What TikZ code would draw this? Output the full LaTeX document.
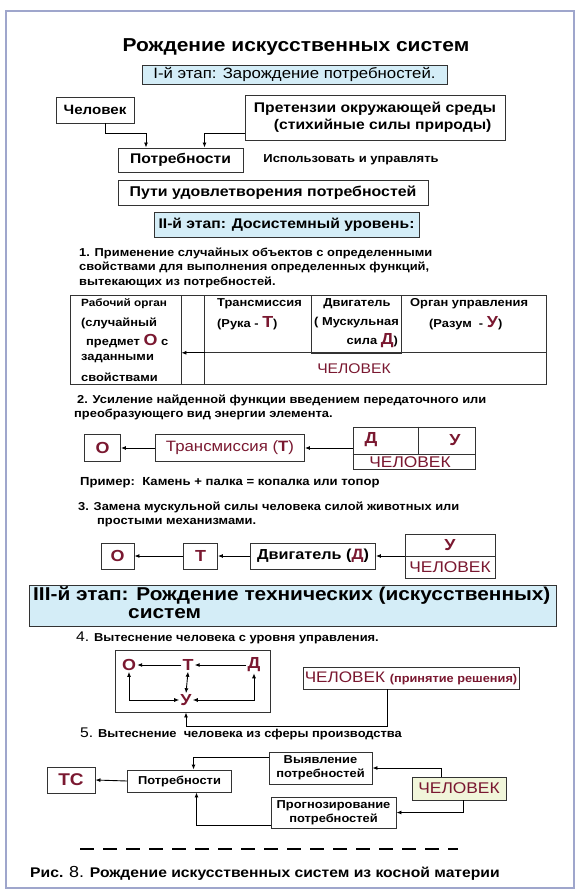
\documentclass[tikz,border=0pt]{standalone}
\usepackage{fontspec}
\setmainfont{Liberation Sans}[FakeStretch=1.12]
\usetikzlibrary{arrows.meta}
\definecolor{dred}{HTML}{7A1830}
\definecolor{lblue}{HTML}{D4EDF7}
\definecolor{framec}{HTML}{9FA6CC}
\definecolor{lgreen}{HTML}{F1F6DA}
\newcommand{\fsz}[2]{\fontsize{#1}{#2}\selectfont}
\newcommand{\rl}[2][16]{{\color{dred}\bfseries\fsz{#1}{#1}#2}}
\begin{document}
\begin{tikzpicture}[x=1pt,y=-1pt,
  box/.style={draw=black!80, line width=0.9pt, inner sep=0pt, font=\bfseries\fsz{13}{15}},
  stagebox/.style={box, fill=lblue},
  lbl/.style={inner sep=0pt, font=\bfseries\fsz{11.5}{14.5}},
  rtxt/.style={inner sep=0pt, text=dred, font=\fsz{14}{16}},
  thin/.style={line width=0.9pt, draw=black!80},
  arr/.style={-{Latex[length=5pt,width=4pt]}, line width=0.9pt},
  darr/.style={{Latex[length=5pt,width=4pt]}-{Latex[length=5pt,width=4pt]}, line width=0.9pt}]
\path[use as bounding box] (0,0) rectangle (580,896);
\fill[white] (0,0) rectangle (580,896);
\draw[framec, line width=1.2pt] (6,11) rectangle (574,888);

% title and stage I
\node[inner sep=0pt, font=\bfseries\fsz{18.7}{22}] (title) at (296,47) {Рождение искусственных систем};
\node[stagebox, minimum width=305, minimum height=19, font=\fsz{15}{17}] (st1) at (294.5,74.5) {I-й этап: Зарождение потребностей.};

\node[box, minimum width=78, minimum height=26, font=\bfseries\fsz{13.5}{15}] (chel) at (95,110) {Человек};
\node[box, minimum width=260, minimum height=45, align=left, font=\bfseries\fsz{14}{17}] (pret) at (375,117.5) {Претензии окружающей среды\\\hspace*{20pt}(стихийные силы природы)};
\node[box, minimum width=125, minimum height=24, font=\bfseries\fsz{14}{16}] (potr) at (180.5,160) {Потребности};
\node[lbl, font=\bfseries\fsz{11.6}{13}] (isp) at (351,160) {Использовать и управлять};
\draw[arr] ([xshift=10.5pt]chel.south) -- ++(0,10) -| ([xshift=-34.5pt]potr.north);
\draw[arr] (pret.west) ++(0,15.5) -| ([xshift=24pt]potr.north);

\node[box, minimum width=310, minimum height=25, font=\bfseries\fsz{14.2}{16}] (puti) at (273,192.5) {Пути удовлетворения потребностей};
\node[stagebox, minimum width=265, minimum height=25, font=\bfseries\fsz{14}{16}] (st2) at (286.5,224.5) {II-й этап: Досистемный уровень:};

% item 1
\node[lbl, anchor=west] (t1a) at (79,253) {1. Применение случайных объектов с определенными};
\node[lbl, anchor=west] (t1b) at (79,267.5) {свойствами для выполнения определенных функций,};
\node[lbl, anchor=west] (t1c) at (79,282) {вытекающих из потребностей.};

% table
\node[box, minimum width=476, minimum height=89] (tbl) at (308,339.5) {};
\node[box, minimum width=111, minimum height=89] (col1) at (125.5,339.5) {};
\node[box, minimum width=90, minimum height=58] (dvig) at (356,324) {};
\node[inner sep=0pt, minimum width=341, minimum height=31] (chcell) at (375.5,368.5) {};
\draw[thin] (chcell.north east) -- (chcell.north west);
\draw[thin] (chcell.south west) -- (chcell.west |- tbl.north);
\draw[arr] (chcell.north west) -- (chcell.north west -| col1.east);
\node[lbl, anchor=west, font=\bfseries\fsz{10.5}{12}] at (81,304) {Рабочий орган};
\node[lbl, anchor=west] at (81,323) {(случайный};
\node[lbl, anchor=west] at (86,341) {предмет \rl{О} с};
\node[lbl, anchor=west] at (81,359) {заданными};
\node[lbl, anchor=west] at (81,377) {свойствами};
\node[lbl, anchor=west] at (217,304) {Трансмиссия};
\node[lbl, anchor=west] at (217,323) {(Рука - \rl{Т})};
\node[lbl] at (357,304) {Двигатель};
\node[lbl, anchor=west] at (314,323) {( Мускульная};
\node[lbl, anchor=east] at (398,341) {сила \rl{Д})};
\node[lbl, anchor=west] at (410,304) {Орган управления};
\node[lbl, anchor=west] at (429,323) {(Разум\ \ - \rl{У})};
\node[rtxt] at (354,369) {ЧЕЛОВЕК};

% item 2
\node[lbl, anchor=west] (t2a) at (77,400) {2. Усиление найденной функции введением передаточного или};
\node[lbl, anchor=west] (t2b) at (74,414.5) {преобразующего вид энергии элемента.};
\node[box, minimum width=36, minimum height=27] (o2) at (102.5,448) {\rl{О}};
\node[box, minimum width=149, minimum height=27, text=dred, font=\fsz{15}{17}] (tr2) at (230,448) {Трансмиссия (\textbf{Т})};
\node[box, minimum width=122, minimum height=42] (du2) at (414,448) {};
\draw[thin] (du2.west) ++(0,6) -- ++(122,0);
\draw[thin] (du2.north) ++(4,0) -- ++(0,27);
\node[inner sep=0pt] at (371,440) {\rl{Д}};
\node[inner sep=0pt] at (455,440) {\rl{У}};
\node[rtxt, font=\fsz{15.5}{17}] at (410,462) {ЧЕЛОВЕК};
\draw[arr] (tr2.west) -- (o2.east);
\draw[arr] (du2.west) -- (du2.west -| tr2.east);
\node[lbl, anchor=west, font=\bfseries\fsz{11.7}{13}] at (80,483) {Пример:\ \ Камень + палка = копалка или топор};

% item 3
\node[lbl, anchor=west] at (78,507) {3. Замена мускульной силы человека силой животных или};
\node[lbl, anchor=west] at (97,523) {простыми механизмами.};
\node[box, minimum width=33, minimum height=26] (o3) at (117.5,556) {\rl{О}};
\node[box, minimum width=34, minimum height=26] (t3) at (200.5,556) {\rl{Т}};
\node[box, minimum width=125, minimum height=26, font=\bfseries\fsz{14.5}{16}] (d3) at (313,556) {Двигатель (\rl[15]{Д})};
\node[box, minimum width=90, minimum height=44] (u3) at (450,556) {};
\draw[thin] (u3.west) -- (u3.east);
\node[inner sep=0pt] at (450,545) {\rl{У}};
\node[rtxt, font=\fsz{15.5}{17}] at (450,567.5) {ЧЕЛОВЕК};
\draw[arr] (t3.west) -- (o3.east);
\draw[arr] (d3.west) -- (t3.east);
\draw[arr] (u3.west) -- (d3.east);

% stage III
\node[stagebox, minimum width=527, minimum height=41] (st3) at (292.5,605.5) {};
\node[inner sep=0pt, anchor=west, font=\bfseries\fsz{18.6}{20}] at (33,596) {III-й этап: Рождение технических (искусственных)};
\node[inner sep=0pt, anchor=west, font=\bfseries\fsz{18.6}{20}] at (128,614) {систем};

% item 4
\node[lbl, anchor=west] at (76,638) {{\mdseries\fsz{14}{16}4.} Вытеснение человека с уровня управления.};
\node[box, minimum width=155, minimum height=62] (otd) at (192.5,681) {};
\node[inner sep=1pt] (lo) at (129,665) {\rl{О}};
\node[inner sep=1pt] (lt) at (188,665) {\rl{Т}};
\node[inner sep=1pt] (ld) at (254,665) {\rl{Д}};
\node[inner sep=1pt] (lu) at (186,700) {\rl{У}};
\draw[arr] (lt.west) -- (lo.east);
\draw[arr] (ld.west) -- (lt.east);
\draw[darr] (lt.south) -- (lu.north);
\draw[darr] (lo.south) |- (lu.west);
\draw[darr] (ld.south) |- (lu.east);
\node[box, minimum width=216, minimum height=22, font=\fsz{15.3}{17}, text=dred] (chel4) at (411,678) {ЧЕЛОВЕК {\bfseries\fsz{11.4}{13}(принятие решения)}};
\draw[arr] ([xshift=-24pt]chel4.south) -- ++(0,37) -| (lu |- otd.south);

% item 5
\node[lbl, anchor=west] at (80,734) {{\mdseries\fsz{14}{16}5.} Вытеснение\ \ человека из сферы производства};
\node[box, minimum width=48, minimum height=26] (ts) at (71,780) {\rl[17]{ТС}};
\node[box, minimum width=104, minimum height=22, font=\bfseries\fsz{11.5}{13}] (potr5) at (179.5,781) {Потребности};
\node[box, minimum width=103, minimum height=32, font=\bfseries\fsz{11.5}{14}, align=center] (vyy) at (320.5,768) {Выявление\\потребностей};
\node[box, minimum width=125, minimum height=31, font=\bfseries\fsz{11.5}{14}, align=center] (prog) at (333.5,812.5) {Прогнозирование\\потребностей};
\node[box, fill=lgreen, minimum width=94, minimum height=23, font=\fsz{15.5}{17}, text=dred] (chel5) at (459,788.5) {ЧЕЛОВЕК};
\draw[arr] (potr5.west) -- (ts.east);
\draw[arr] (vyy.north west) ++(0,6) -| ([xshift=14pt]potr5.north);
\draw[arr] (prog.south west) ++(0,-3) -| ([xshift=17pt]potr5.south);
\draw[arr] ([xshift=-18pt]chel5.north) |- (vyy.east);
\draw[arr] ([xshift=4pt]chel5.south) |- (prog.east);

% dashed rule and caption
\draw[line width=2.2pt, dash pattern=on 14pt off 9pt] (80,849) -- (458,849);
\node[inner sep=0pt, anchor=west, font=\bfseries\fsz{14}{16}] (cap) at (30,873) {Рис. {\mdseries\fsz{16}{18}8.} Рождение искусственных систем из косной материи};
\end{tikzpicture}
\end{document}
